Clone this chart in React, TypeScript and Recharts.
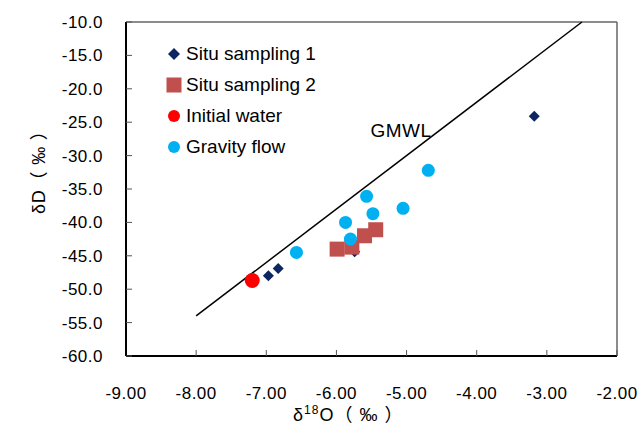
import { ScatterChart, Scatter, XAxis, YAxis, ReferenceLine, ReferenceDot, Legend } from 'recharts';

const FONT = '"Liberation Sans", Arial, "Noto Sans CJK SC", sans-serif';

// δ18O / δD values
const situ1X = [-6.97, -6.83, -5.74, -3.18];
const situ1Y = [-48.0, -46.9, -44.4, -24.1];
const situ2X = [-5.99, -5.78, -5.6, -5.44];
const situ2Y = [-44.0, -43.7, -42.0, -41.1];
const initialX = [-7.2];
const initialY = [-48.7];
const gravityX = [-6.57, -5.87, -5.57, -5.48, -5.05, -4.69, -5.8];
const gravityY = [-44.5, -40.0, -36.1, -38.7, -37.9, -32.2, -42.5];
// GMWL end points
const gmwlX = [-8.0, -2.5];
const gmwlY = [-54.0, -10.0];

const xTicks = [-9, -8, -7, -6, -5, -4, -3, -2];
const yTicks = [-60, -55, -50, -45, -40, -35, -30, -25, -20, -15, -10];

const toPoints = (xs: number[], ys: number[]) => xs.map((x, i) => ({ x, y: ys[i] }));

const COLORS = {
  situ1: '#0b2660',
  situ2: '#c0504d',
  initial: '#ff0000',
  gravity: '#00b0f0',
};

const Diamond = ({ cx, cy, fill, s = 5.5 }: any) => (
  <polygon points={`${cx},${cy - s} ${cx + s},${cy} ${cx},${cy + s} ${cx - s},${cy}`} fill={fill} />
);
const Square = ({ cx, cy, fill, s = 7.5 }: any) => (
  <rect x={cx - s} y={cy - s} width={s * 2} height={s * 2} fill={fill} />
);
const Dot = ({ cx, cy, fill, r = 6.5 }: any) => <circle cx={cx} cy={cy} r={r} fill={fill} />;

const legendItems = [
  { name: 'Situ sampling 1', color: COLORS.situ1, kind: 'diamond' },
  { name: 'Situ sampling 2', color: COLORS.situ2, kind: 'square' },
  { name: 'Initial water', color: COLORS.initial, kind: 'circle' },
  { name: 'Gravity flow', color: COLORS.gravity, kind: 'circle' },
];

const renderLegend = () => (
  <div style={{ fontFamily: FONT, fontSize: 19, color: '#000', whiteSpace: 'nowrap' }}>
    {legendItems.map((it) => (
      <div key={it.name} style={{ display: 'flex', alignItems: 'center', height: 31 }}>
        <svg width={16} height={16} style={{ marginRight: 4 }}>
          {it.kind === 'diamond' && <Diamond cx={8} cy={8} fill={it.color} s={6} />}
          {it.kind === 'square' && <Square cx={8} cy={8} fill={it.color} s={7.5} />}
          {it.kind === 'circle' && <Dot cx={8} cy={8} fill={it.color} r={6} />}
        </svg>
        <span>{it.name}</span>
      </div>
    ))}
  </div>
);

const XLabel = () => (
  <text x={293} y={421} textAnchor="start" fontFamily={FONT} fontSize={18} letterSpacing={1} fill="#000">
    δ<tspan dy={-7} fontSize={12}>18</tspan>
    <tspan dy={7}>O（ ‰ ）</tspan>
  </text>
);

const YLabel = () => (
  <text
    x={39}
    y={214}
    transform="rotate(-90, 39, 214)"
    textAnchor="start"
    dominantBaseline="central"
    fontFamily={FONT}
    fontSize={18}
    letterSpacing={0.8}
    fill="#000"
  >
    δD（ ‰ ）
  </text>
);

const tickStyle = { fill: '#000', fontSize: 17, fontFamily: FONT, letterSpacing: 0.5 };

export default function App() {
  return (
    <div style={{ position: 'absolute', left: 0, top: 0, background: '#fff' }}>
      <ScatterChart width={637} height={425} margin={{ top: 22, right: 20, bottom: 0, left: 0 }}>
        <XAxis
          type="number"
          dataKey="x"
          domain={[-9, -2]}
          ticks={xTicks}
          tickFormatter={(v: number) => v.toFixed(2)}
          height={69}
          tickSize={-6}
          tickMargin={37}
          axisLine={{ stroke: '#000', strokeWidth: 2 }}
          tickLine={{ stroke: '#555', strokeWidth: 1 }}
          tick={tickStyle}
          label={<XLabel />}
          allowDataOverflow
        />
        <YAxis
          type="number"
          dataKey="y"
          domain={[-60, -10]}
          ticks={yTicks}
          tickFormatter={(v: number) => v.toFixed(1)}
          width={126}
          tickSize={-6}
          tickMargin={29}
          axisLine={{ stroke: '#000', strokeWidth: 2 }}
          tickLine={{ stroke: '#555', strokeWidth: 1 }}
          tick={tickStyle}
          label={<YLabel />}
          allowDataOverflow
        />
        <ReferenceLine y={-10} stroke="#666" strokeWidth={1.5} />
        <ReferenceLine x={-2} stroke="#666" strokeWidth={1.5} />
        <ReferenceLine
          segment={toPoints(gmwlX, gmwlY)}
          stroke="#000"
          strokeWidth={1.5}
          ifOverflow="visible"
        />
        <ReferenceDot
          x={-5.08}
          y={-26.2}
          r={0}
          stroke="none"
          label={{ value: 'GMWL', position: 'center', fontSize: 19, fontFamily: FONT, fill: '#000', letterSpacing: 0.5 }}
        />
        <Legend
          content={renderLegend}
          layout="vertical"
          verticalAlign="middle"
          align="center"
          wrapperStyle={{ left: 166, top: 38.5, width: 'auto' }}
        />
        <Scatter
          name="Situ sampling 1"
          data={toPoints(situ1X, situ1Y)}
          fill={COLORS.situ1}
          shape={(p: any) => <Diamond {...p} fill={COLORS.situ1} />}
          isAnimationActive={false}
        />
        <Scatter
          name="Situ sampling 2"
          data={toPoints(situ2X, situ2Y)}
          fill={COLORS.situ2}
          shape={(p: any) => <Square {...p} fill={COLORS.situ2} />}
          isAnimationActive={false}
        />
        <Scatter
          name="Initial water"
          data={toPoints(initialX, initialY)}
          fill={COLORS.initial}
          shape={(p: any) => <Dot {...p} fill={COLORS.initial} r={7.5} />}
          isAnimationActive={false}
        />
        <Scatter
          name="Gravity flow"
          data={toPoints(gravityX, gravityY)}
          fill={COLORS.gravity}
          shape={(p: any) => <Dot {...p} fill={COLORS.gravity} r={6.5} />}
          isAnimationActive={false}
        />
      </ScatterChart>
    </div>
  );
}
